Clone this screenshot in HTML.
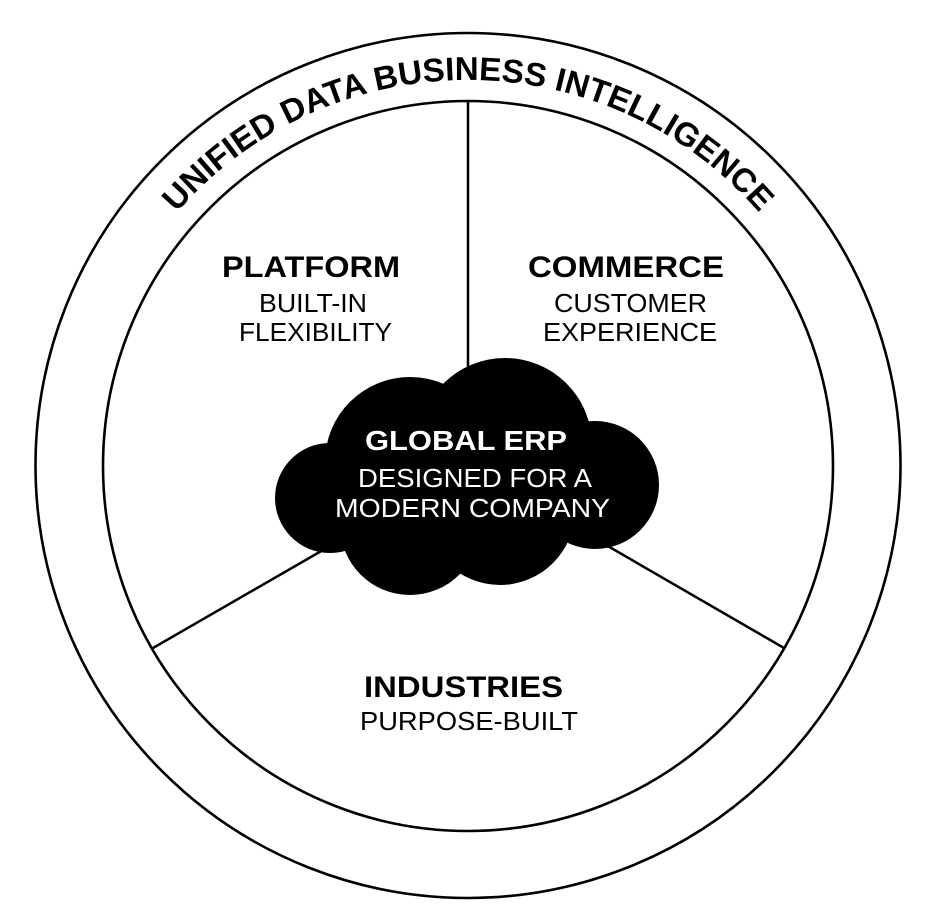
<!DOCTYPE html>
<html>
<head>
<meta charset="utf-8">
<style>
  html, body { margin: 0; padding: 0; background: #ffffff; }
  body { width: 942px; height: 918px; overflow: hidden; }
  svg { display: block; }
  .b { font-family: "Liberation Sans", Arial, sans-serif; font-weight: bold; }
  .r { font-family: "Liberation Sans", Arial, sans-serif; font-weight: normal; }
</style>
</head>
<body>
<svg width="942" height="918" viewBox="0 0 942 918" xmlns="http://www.w3.org/2000/svg">
  <rect x="0" y="0" width="942" height="918" fill="#ffffff"/>
  <defs>
    <path id="arc" d="M 82 466 A 386 386 0 0 1 854 466"/>
  </defs>

  <!-- rings -->
  <circle cx="468" cy="465.5" r="432.5" fill="none" stroke="#000" stroke-width="2.6"/>
  <circle cx="468" cy="466" r="365" fill="none" stroke="#000" stroke-width="2.6"/>

  <!-- divider lines -->
  <line x1="468" y1="101" x2="468" y2="380" stroke="#000" stroke-width="2.5"/>
  <line x1="153" y1="648" x2="330" y2="546" stroke="#000" stroke-width="2.5"/>
  <line x1="784" y1="648" x2="606" y2="545" stroke="#000" stroke-width="2.5"/>

  <!-- curved title -->
  <text class="b" font-size="33" fill="#000">
    <textPath href="#arc" startOffset="50%" text-anchor="middle" textLength="660" lengthAdjust="spacingAndGlyphs">UNIFIED DATA BUSINESS INTELLIGENCE</textPath>
  </text>

  <!-- cloud -->
  <g fill="#000">
    <circle cx="330" cy="498" r="55"/>
    <circle cx="410" cy="462" r="85"/>
    <circle cx="505" cy="445" r="87"/>
    <circle cx="595" cy="485" r="64"/>
    <circle cx="410" cy="525" r="70"/>
    <circle cx="500" cy="510" r="75"/>
    <rect x="340" y="440" width="260" height="100"/>
  </g>

  <!-- cloud text -->
  <text class="b" x="466" y="450" font-size="28" fill="#fff" text-anchor="middle" textLength="202" lengthAdjust="spacingAndGlyphs">GLOBAL ERP</text>
  <text class="r" x="475" y="487" font-size="26" fill="#fff" text-anchor="middle" textLength="234" lengthAdjust="spacingAndGlyphs">DESIGNED FOR A</text>
  <text class="r" x="472.5" y="517" font-size="26" fill="#fff" text-anchor="middle" textLength="275" lengthAdjust="spacingAndGlyphs">MODERN COMPANY</text>

  <!-- PLATFORM -->
  <text class="b" x="311" y="277" font-size="30" fill="#000" text-anchor="middle" textLength="178" lengthAdjust="spacingAndGlyphs">PLATFORM</text>
  <text class="r" x="313" y="312" font-size="26" fill="#000" text-anchor="middle" textLength="108" lengthAdjust="spacingAndGlyphs">BUILT-IN</text>
  <text class="r" x="315.5" y="341" font-size="26" fill="#000" text-anchor="middle" textLength="153" lengthAdjust="spacingAndGlyphs">FLEXIBILITY</text>

  <!-- COMMERCE -->
  <text class="b" x="626" y="277" font-size="30" fill="#000" text-anchor="middle" textLength="196" lengthAdjust="spacingAndGlyphs">COMMERCE</text>
  <text class="r" x="630.5" y="312" font-size="26" fill="#000" text-anchor="middle" textLength="153" lengthAdjust="spacingAndGlyphs">CUSTOMER</text>
  <text class="r" x="630" y="341" font-size="26" fill="#000" text-anchor="middle" textLength="174" lengthAdjust="spacingAndGlyphs">EXPERIENCE</text>

  <!-- INDUSTRIES -->
  <text class="b" x="463.5" y="697" font-size="30" fill="#000" text-anchor="middle" textLength="199" lengthAdjust="spacingAndGlyphs">INDUSTRIES</text>
  <text class="r" x="469" y="730" font-size="26" fill="#000" text-anchor="middle" textLength="218" lengthAdjust="spacingAndGlyphs">PURPOSE-BUILT</text>
</svg>
</body>
</html>
